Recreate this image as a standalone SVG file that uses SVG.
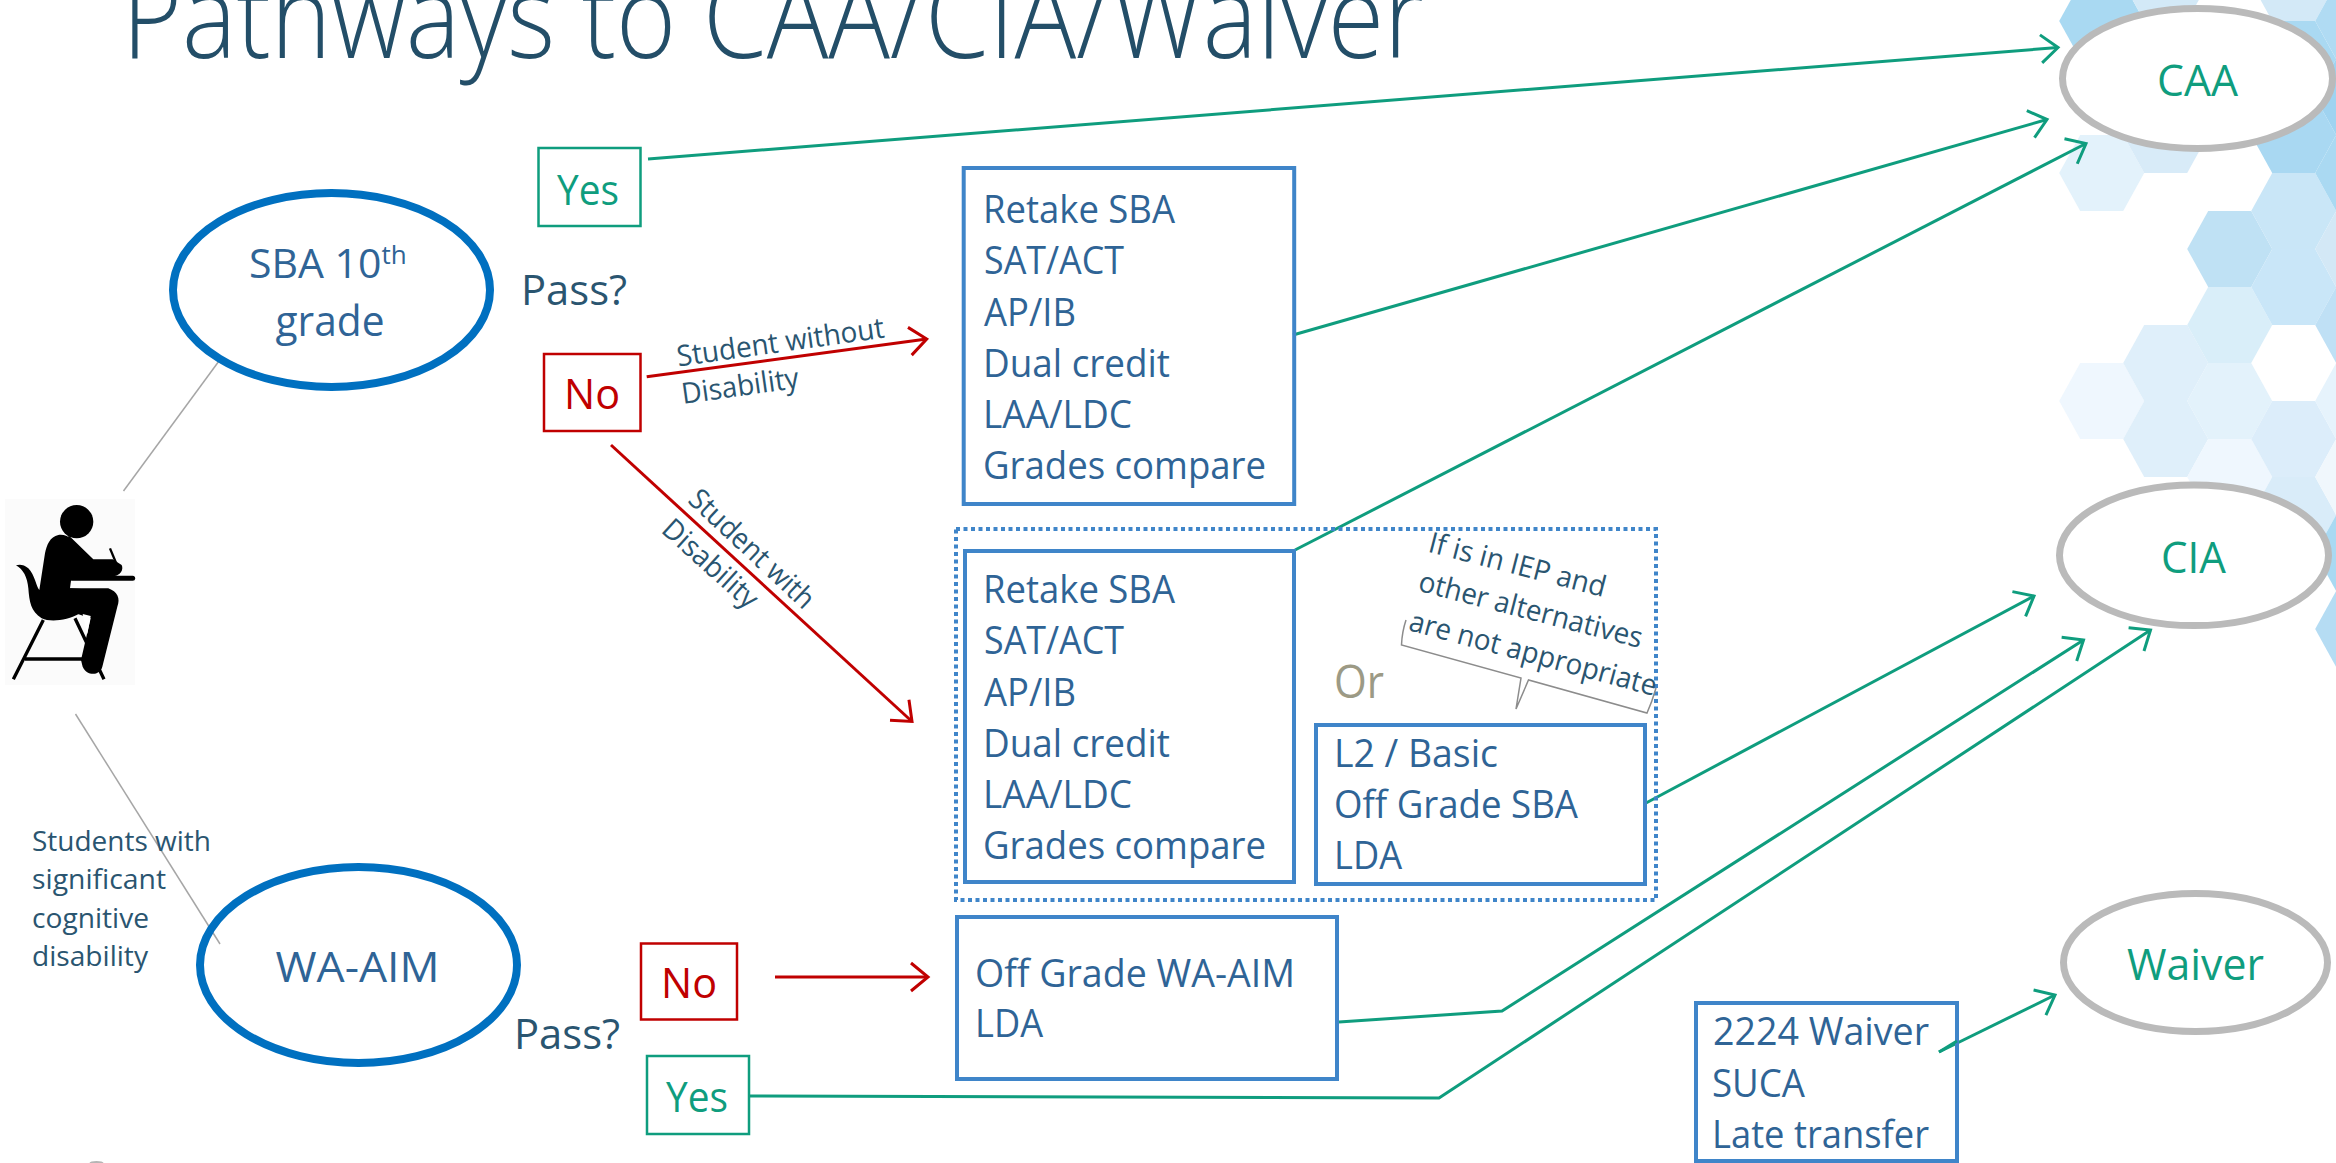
<svg xmlns="http://www.w3.org/2000/svg" width="2336" height="1163" viewBox="0 0 2336 1163">
<style>
text{font-family:"Open Sans","Noto Sans","Liberation Sans",sans-serif}
.b{font-size:38px;fill:#2f6496}
.n{font-size:42px}
.teal{fill:#0f9d7e}
.red{fill:#c00000}
.d{fill:#2a5570}
.b,.n,.teal{transform:translate(0,1.5px)}
.s{font-size:28px;fill:#2a5570}
.r{font-size:29px;fill:#2a5570}
.box{fill:none;stroke:#3f85c9;stroke-width:4}
.oval{fill:#fff;stroke:#0070c0;stroke-width:8}
.goal{fill:#fff;stroke:#bababa;stroke-width:7}
.tl{fill:none;stroke:#0f9d7e;stroke-width:3}
.rl{fill:none;stroke:#c00000;stroke-width:3}
.gl{fill:none;stroke:#a6a6a6;stroke-width:1.5}
</style>
<defs>
<path id="h" d="M-42.5,0L-21.5,-38H21.5L42.5,0L21.5,38H-21.5Z"/>
<marker id="at" viewBox="-20 -17 23 34" refX="0" refY="0" markerWidth="23" markerHeight="34" markerUnits="userSpaceOnUse" orient="auto"><path d="M-17,-14L0,0L-17,14" fill="none" stroke="#0f9d7e" stroke-width="3"/></marker>
<marker id="ar" viewBox="-20 -17 23 34" refX="0" refY="0" markerWidth="23" markerHeight="34" markerUnits="userSpaceOnUse" orient="auto"><path d="M-17,-14L0,0L-17,14" fill="none" stroke="#c00000" stroke-width="3"/></marker>
</defs>
<rect width="2336" height="1163" fill="#fff"/>
<g id="hexes">
<use href="#h" x="2101.7" y="21" fill="#a9d9f2"/>
<use href="#h" x="2101.7" y="173" fill="#e3f2fb"/>
<use href="#h" x="2101.7" y="401" fill="#eff7fe"/>
<use href="#h" x="2165.7" y="-17" fill="#d3e9f7"/>
<use href="#h" x="2165.7" y="135" fill="#d8ebf8"/>
<use href="#h" x="2165.7" y="363" fill="#dfeffa"/>
<use href="#h" x="2165.7" y="439" fill="#dfeffa"/>
<use href="#h" x="2229.7" y="249" fill="#bfe1f4"/>
<use href="#h" x="2229.7" y="325" fill="#d9eef9"/>
<use href="#h" x="2229.7" y="401" fill="#e3f2fb"/>
<use href="#h" x="2229.7" y="477" fill="#eff7fe"/>
<use href="#h" x="2293.7" y="-17" fill="#d3e9f7"/>
<use href="#h" x="2293.7" y="59" fill="#aad9f2"/>
<use href="#h" x="2293.7" y="135" fill="#a9d8f2"/>
<use href="#h" x="2293.7" y="211" fill="#c9e6f7"/>
<use href="#h" x="2293.7" y="287" fill="#c9e6f8"/>
<use href="#h" x="2293.7" y="439" fill="#dcedfa"/>
<use href="#h" x="2293.7" y="515" fill="#d9ecf9"/>
<use href="#h" x="2357.7" y="21" fill="#b0dbf3"/>
<use href="#h" x="2357.7" y="97" fill="#9fd3f0"/>
<use href="#h" x="2357.7" y="173" fill="#aad9f2"/>
<use href="#h" x="2357.7" y="249" fill="#d3e8f6"/>
<use href="#h" x="2357.7" y="325" fill="#bfe0f5"/>
<use href="#h" x="2357.7" y="401" fill="#e6f3fc"/>
<use href="#h" x="2357.7" y="477" fill="#f0f7fc"/>
<use href="#h" x="2357.7" y="553" fill="#a9d9f2"/>
<use href="#h" x="2357.7" y="629" fill="#b5dcf3"/>
</g>
<text id="title" x="122" y="58" font-size="116" font-weight="300" fill="#234e68" textLength="1302" lengthAdjust="spacingAndGlyphs">Pathways to CAA/CIA/Waiver</text>

<g id="connectors">
<path class="gl" d="M219,361L123.5,491"/>
<path class="gl" d="M75.5,714L220,944"/>
<path class="tl" d="M648,159L2058,47.5" marker-end="url(#at)"/>
<path class="tl" d="M1293,335L2047,119.5" marker-end="url(#at)"/>
<path class="tl" d="M1295,550L2086,143.5" marker-end="url(#at)"/>
<path class="tl" d="M1646,803L2034,596" marker-end="url(#at)"/>
<path class="tl" d="M1339,1022L1502,1011L2083.5,640" marker-end="url(#at)"/>
<path class="tl" d="M750,1096L1439,1098L2150.5,630" marker-end="url(#at)"/>
<path class="tl" d="M1939,1052L2055,995" marker-end="url(#at)"/>
<path class="rl" d="M646.7,376.7L926.7,339" marker-end="url(#ar)"/>
<path class="rl" d="M611,445L912,721.5" marker-end="url(#ar)"/>
<path class="rl" d="M775,977H928" marker-end="url(#ar)"/>
</g>

<g id="student">
<rect x="5" y="499" width="130" height="186" fill="#fbfbfb"/>
<g transform="translate(0,490) scale(.3333)" fill="#000" stroke="none">
<circle cx="230" cy="95" r="50"/>
<path d="M175,135C150,140 140,165 135,190L118,300C108,290 105,255 85,235C72,224 60,222 48,226C70,238 82,262 85,295C88,335 92,365 125,385C150,397 200,393 240,370L272,372L290,300L210,295L215,258L248,258L218,235L218,150C205,138 190,133 175,135Z"/>
<path d="M205,135L280,208H338L365,225C372,240 360,255 345,258H235L205,235Z"/>
<path d="M210,295H325C352,305 362,325 352,350L307,530C300,557 262,560 248,530L243,510L272,385L222,368Z"/>
<path d="M330,175L352,228" stroke="#000" stroke-width="7"/>
<path d="M215,265H398" stroke="#000" stroke-width="15" stroke-linecap="round"/>
<path d="M130,390L40,568M225,385L312,568M75,507H260" stroke="#000" stroke-width="10" fill="none"/>
<path d="M248,372L272,378L262,432Z" fill="#fff"/>
</g>
</g>

<g id="sba"><ellipse class="oval" cx="331.5" cy="290" rx="158.5" ry="97"/>
<text x="249" y="278" fill="#2f6496" font-size="41">SBA 10<tspan dy="-14" font-size="26">th</tspan></text>
<text x="330" y="336" text-anchor="middle" fill="#2f6496" font-size="42" textLength="109" lengthAdjust="spacingAndGlyphs">grade</text></g>
<g id="pass1"><text class="n d" x="521" y="303" textLength="106" lengthAdjust="spacingAndGlyphs">Pass?</text></g>
<g id="yes1"><rect x="538.5" y="148" width="102" height="78" fill="none" stroke="#0f9d7e" stroke-width="2.5"/><text class="n teal" x="557" y="203" textLength="62" lengthAdjust="spacingAndGlyphs">Yes</text></g>
<g id="no1"><rect x="544" y="354" width="96.5" height="77" fill="none" stroke="#c00000" stroke-width="2.5"/><text class="n red" x="564" y="407" textLength="56" lengthAdjust="spacingAndGlyphs">No</text></g>

<g id="label-without">
<text class="r" transform="translate(678.3,366.5) rotate(-8)" textLength="209" lengthAdjust="spacingAndGlyphs">Student without</text>
<text class="r" transform="translate(683,404) rotate(-8)" textLength="118" lengthAdjust="spacingAndGlyphs">Disability</text>
</g>
<g id="label-with">
<text class="r" transform="translate(686.7,501.5) rotate(43)" textLength="160" lengthAdjust="spacingAndGlyphs">Student with</text>
<text class="r" transform="translate(660,531.5) rotate(42)" textLength="118" lengthAdjust="spacingAndGlyphs">Disability</text>
</g>

<g id="options-a"><rect class="box" x="963.7" y="168" width="330.5" height="336"/>
<text class="b" x="983" y="221" textLength="192" lengthAdjust="spacingAndGlyphs">Retake SBA</text>
<text class="b" x="984" y="272.5" textLength="140" lengthAdjust="spacingAndGlyphs">SAT/ACT</text>
<text class="b" x="984" y="324" textLength="92" lengthAdjust="spacingAndGlyphs">AP/IB</text>
<text class="b" x="983" y="375" textLength="187" lengthAdjust="spacingAndGlyphs">Dual credit</text>
<text class="b" x="983" y="426" textLength="149" lengthAdjust="spacingAndGlyphs">LAA/LDC</text>
<text class="b" x="983" y="477" textLength="283" lengthAdjust="spacingAndGlyphs">Grades compare</text></g>

<g id="disability-group"><rect x="956" y="529" width="700" height="371" fill="none" stroke="#3f85c9" stroke-width="4" stroke-dasharray="4 3.5"/></g>

<g id="options-b"><rect class="box" x="965" y="551" width="329" height="331"/>
<text class="b" x="983" y="601" textLength="192" lengthAdjust="spacingAndGlyphs">Retake SBA</text>
<text class="b" x="984" y="652.5" textLength="140" lengthAdjust="spacingAndGlyphs">SAT/ACT</text>
<text class="b" x="984" y="704" textLength="92" lengthAdjust="spacingAndGlyphs">AP/IB</text>
<text class="b" x="983" y="755" textLength="187" lengthAdjust="spacingAndGlyphs">Dual credit</text>
<text class="b" x="983" y="806" textLength="149" lengthAdjust="spacingAndGlyphs">LAA/LDC</text>
<text class="b" x="983" y="857" textLength="283" lengthAdjust="spacingAndGlyphs">Grades compare</text></g>

<g id="or"><text x="1334" y="698" font-size="46" fill="#9c9a85" textLength="50" lengthAdjust="spacingAndGlyphs">Or</text></g>
<g id="iep-note">
<text class="r" transform="translate(1427,551.5) rotate(14.5)" textLength="182" lengthAdjust="spacingAndGlyphs">If is in IEP and</text>
<text class="r" transform="translate(1417,590.5) rotate(14.5)" textLength="230" lengthAdjust="spacingAndGlyphs">other alternatives</text>
<text class="r" transform="translate(1407.5,630) rotate(15)" textLength="255" lengthAdjust="spacingAndGlyphs">are not appropriate</text>
<path d="M1406,620Q1402,632 1401.5,645L1521,678L1516,709L1528.5,680L1647,713Q1652,702 1656,688" fill="none" stroke="#8c8c8c" stroke-width="1.5"/>
</g>

<g id="options-c"><rect class="box" x="1316" y="725" width="329" height="159"/>
<text class="b" x="1334" y="765" textLength="164" lengthAdjust="spacingAndGlyphs">L2 / Basic</text>
<text class="b" x="1334" y="816" textLength="244" lengthAdjust="spacingAndGlyphs">Off Grade SBA</text>
<text class="b" x="1334" y="867" textLength="68" lengthAdjust="spacingAndGlyphs">LDA</text></g>

<g id="caption"><text class="s" x="32" y="850.5" textLength="179" lengthAdjust="spacingAndGlyphs">Students with</text>
<text class="s" x="32" y="889" textLength="134" lengthAdjust="spacingAndGlyphs">significant</text>
<text class="s" x="32" y="927.5" textLength="117" lengthAdjust="spacingAndGlyphs">cognitive</text>
<text class="s" x="32" y="965.5" textLength="116" lengthAdjust="spacingAndGlyphs">disability</text></g>

<g id="wa-aim"><ellipse class="oval" cx="358.5" cy="965" rx="158.5" ry="98" fill-opacity="0"/>
<text x="275.5" y="982" font-size="42" fill="#2f6496" textLength="164" lengthAdjust="spacingAndGlyphs">WA-AIM</text></g>
<g id="pass2"><text class="n d" x="514" y="1047.5" textLength="106" lengthAdjust="spacingAndGlyphs">Pass?</text></g>
<g id="no2"><rect x="641" y="943.5" width="96" height="76" fill="none" stroke="#c00000" stroke-width="2.5"/><text class="n red" x="661" y="996" textLength="56" lengthAdjust="spacingAndGlyphs">No</text></g>
<g id="yes2"><rect x="647" y="1056" width="102" height="78" fill="none" stroke="#0f9d7e" stroke-width="2.5"/><text class="n teal" x="666" y="1110" textLength="62" lengthAdjust="spacingAndGlyphs">Yes</text></g>

<g id="options-d"><rect class="box" x="957" y="917" width="380" height="162"/>
<text class="b" x="975" y="985" textLength="320" lengthAdjust="spacingAndGlyphs">Off Grade WA-AIM</text>
<text class="b" x="975" y="1035" textLength="68" lengthAdjust="spacingAndGlyphs">LDA</text></g>

<g id="options-e"><rect class="box" x="1696" y="1003" width="261" height="158"/>
<text class="b" x="1713" y="1043" textLength="216" lengthAdjust="spacingAndGlyphs">2224 Waiver</text>
<text class="b" x="1712" y="1095" textLength="93" lengthAdjust="spacingAndGlyphs">SUCA</text>
<text class="b" x="1712" y="1146" textLength="217" lengthAdjust="spacingAndGlyphs">Late transfer</text></g>
<path class="tl" d="M1939,1052L1957,1041"/>

<g id="caa"><ellipse class="goal" cx="2197.5" cy="78.5" rx="135" ry="70"/><text class="teal" x="2157" y="94" font-size="44" textLength="81" lengthAdjust="spacingAndGlyphs">CAA</text></g>
<g id="cia"><ellipse class="goal" cx="2194" cy="555.3" rx="134.5" ry="70.3"/><text class="teal" x="2161" y="571" font-size="44" textLength="65" lengthAdjust="spacingAndGlyphs">CIA</text></g>
<g id="waiver"><ellipse class="goal" cx="2195.5" cy="962.5" rx="132" ry="69"/><text class="teal" x="2127" y="978" font-size="44" textLength="137" lengthAdjust="spacingAndGlyphs">Waiver</text></g>
<ellipse cx="96.5" cy="1163" rx="7" ry="2" fill="#b5b5b5"/>
</svg>
